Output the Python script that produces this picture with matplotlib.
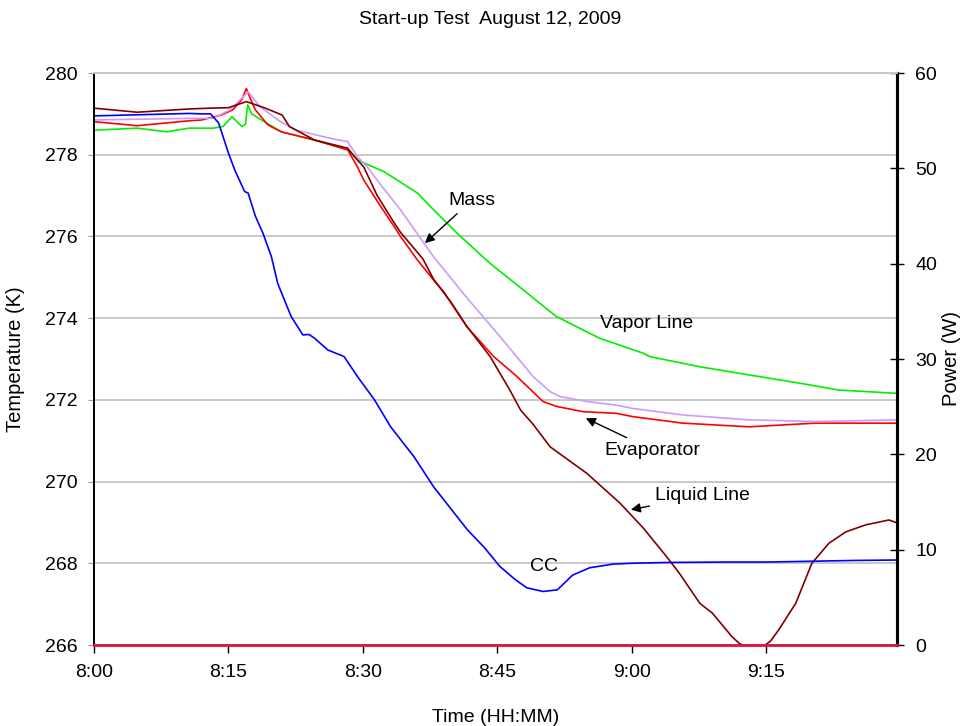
import matplotlib
matplotlib.use("Agg")
import matplotlib.pyplot as plt

plt.rcParams['font.family'] = ['Liberation Sans', 'DejaVu Sans']

# minutes after 8:00
xtick_pos = [0, 15, 30, 45, 60, 75]
xtick_labels = ['8:00', '8:15', '8:30', '8:45', '9:00', '9:15']

cc_t = [0, 10.6, 12.0, 13.0, 13.9, 15.0, 15.7, 16.8, 17.2, 18.0, 18.85, 19.8, 20.5,
        22.0, 23.3, 24.0, 24.6, 26.1, 27.9, 29.4, 31.3, 33.1, 35.7, 37.9, 41.7, 43.5,
        45.3, 47.0, 48.3, 50.1, 51.7, 53.4, 55.3, 57.9, 60.0, 63.9, 70, 75, 80, 85, 89.6]
cc_T = [278.95, 279.01, 279.0, 279.0, 278.78, 278.04, 277.63, 277.1, 277.06, 276.5,
        276.08, 275.5, 274.85, 274.04, 273.59, 273.6, 273.51, 273.22, 273.06, 272.57,
        272.0, 271.34, 270.61, 269.87, 268.81, 268.4, 267.92, 267.6, 267.4, 267.31,
        267.35, 267.71, 267.89, 267.98, 268.0, 268.02, 268.03, 268.03, 268.05, 268.07, 268.08]

evap_t = [0, 4.8, 10.6, 12, 14.2, 15.5, 16.5, 17.0, 17.4, 18.0, 19.4, 20.9, 24.6, 28.3,
          29.4, 30.1, 32.0, 33.5, 34.2, 36.1, 37.9, 39.0, 41.6, 44.6, 47.2, 50.1, 51.6,
          54.6, 58.3, 60.1, 65.7, 73.1, 80.5, 89.6]
evap_T = [278.81, 278.71, 278.83, 278.85, 278.97, 279.1, 279.35, 279.62, 279.4, 279.1,
          278.73, 278.56, 278.36, 278.12, 277.7, 277.38, 276.73, 276.24, 276.0, 275.42,
          274.93, 274.65, 273.79, 273.06, 272.57, 271.96, 271.84, 271.71, 271.67, 271.59,
          271.43, 271.34, 271.43, 271.43]

liq_t = [0, 4.8, 10.6, 13, 15, 17.0, 19, 21.0, 21.8, 24.6, 28.3, 29.4, 30.1, 31.6,
         33.5, 34.2, 36.7, 37.9, 39.8, 41.6, 44.2, 46.4, 47.6, 49.0, 50.9, 55.0, 58.7,
         61.3, 63.9, 65.3, 67.6, 69.0, 71.2, 72.0, 72.8, 74.6, 75.5, 76.4, 78.3, 80.1,
         82.0, 83.9, 86.1, 88.7, 89.6]
liq_T = [279.14, 279.04, 279.12, 279.14, 279.15, 279.3, 279.15, 278.97, 278.69, 278.36,
         278.16, 277.87, 277.7, 277.0, 276.33, 276.1, 275.45, 274.95, 274.4, 273.8,
         273.06, 272.24, 271.75, 271.4, 270.85, 270.2, 269.47, 268.86, 268.16, 267.76,
         267.02, 266.78, 266.2, 266.04, 265.95, 265.95, 266.1, 266.37, 267.02, 268.0,
         268.49, 268.77, 268.94, 269.06, 268.99]

mass_t = [0, 10.6, 13.3, 15.2, 17.2, 18.5, 20.8, 22.6, 26.4, 28.3, 29.4, 30.5, 32.0,
          34.2, 36.8, 37.9, 41.6, 45.3, 49.0, 50.9, 52.0, 55.0, 58.3, 60.1, 65.7, 73.1,
          80.5, 89.6]
mass_T = [278.85, 278.89, 278.89, 279.1, 279.54, 279.18, 278.81, 278.6, 278.4, 278.32,
          277.95, 277.7, 277.26, 276.65, 275.84, 275.5, 274.5, 273.55, 272.57, 272.2,
          272.08, 271.96, 271.87, 271.79, 271.63, 271.51, 271.47, 271.51]

vap_t = [0, 4.8, 8.1, 10.6, 13.3, 14.4, 15.4, 16.5, 16.9, 17.15, 17.6, 18.7, 20.9, 24.6,
         28.3, 29.4, 29.8, 32.4, 36.1, 37.9, 40.5, 44.2, 47.9, 50.9, 51.6, 55.3, 56.4,
         61.3, 62.0, 67.6, 73.1, 78.7, 83.1, 89.6]
vap_T = [278.6, 278.65, 278.56, 278.65, 278.65, 278.69, 278.93, 278.69, 278.75, 279.22,
         279.0, 278.85, 278.56, 278.36, 278.12, 277.87, 277.83, 277.58, 277.06, 276.65,
         276.08, 275.34, 274.69, 274.16, 274.04, 273.63, 273.51, 273.14, 273.06, 272.81,
         272.61, 272.41, 272.24, 272.16]

power_t = [0, 89.6]
power_W = [0, 0]

fig = plt.figure(figsize=(9.62, 7.26), dpi=100)
ax = fig.add_axes([94/962, 1-645/726, (897-94)/962, (645-73)/726])
ax2 = ax.twinx()

lw = 1.2
ax.plot(vap_t, vap_T, color='#00ee00', lw=lw)
ax.plot(evap_t, evap_T, color='#ff0000', lw=lw)
ax.plot(mass_t, mass_T, color='#cc99ff', lw=lw)
ax.plot(liq_t, liq_T, color='#800000', lw=lw)
ax.plot(cc_t, cc_T, color='#0000ff', lw=lw)

ax.set_xlim(0, 89.6)
ax.set_ylim(266, 280)
ax.set_yticks(range(266, 281, 2))
ax.set_xticks(xtick_pos)
ax.set_xticklabels(xtick_labels)
ax.yaxis.grid(True, color='#c8c8c8', lw=1.4)
ax.set_axisbelow(True)
ax.tick_params(axis='both', labelsize=14)
ax.tick_params(axis='x', direction='out', length=6, width=1, pad=8)
ax.tick_params(axis='y', direction='out', length=4, width=0.8, color='#999999', pad=8)

ax2.plot(power_t, power_W, color='#e0103c', lw=2, clip_on=False, zorder=5)
ax2.set_ylim(0, 60)
ax2.set_yticks(range(0, 61, 10))
ax2.tick_params(axis='y', direction='inout', length=10, width=1, labelsize=14, pad=8)

for a in (ax, ax2):
    a.spines['top'].set_color('#c8c8c8')
    a.spines['top'].set_linewidth(1.4)
    a.spines['left'].set_linewidth(1.3)
    a.spines['right'].set_linewidth(2.2)
    a.spines['bottom'].set_color('#888888')

ax.set_ylabel('Temperature (K)', fontsize=14.5)
ax.yaxis.set_label_coords(-0.086, 0.5)
ax2.set_ylabel('Power (W)', fontsize=14.5, rotation=90, va='center')
ax2.yaxis.set_label_coords(1.068, 0.5)
ax.set_xlabel('Time (HH:MM)', fontsize=14, labelpad=20)
fig.suptitle('Start-up Test  August 12, 2009', fontsize=14, x=0.51, y=0.985)

arrow = dict(arrowstyle='-|>', color='black', lw=1.0, mutation_scale=14)
ax.annotate('Mass', xy=(36.7, 275.79), xytext=(39.5, 276.67), fontsize=14,
            ha='left', va='bottom', arrowprops=arrow)
ax.text(56.5, 273.88, 'Vapor Line', fontsize=14, ha='left', va='center')
ax.annotate('Evaporator', xy=(54.6, 271.58), xytext=(57.0, 270.77), fontsize=14,
            ha='left', va='center', arrowprops=arrow)
ax.annotate('Liquid Line', xy=(59.6, 269.3), xytext=(62.6, 269.65), fontsize=14,
            ha='left', va='center', arrowprops=arrow)
ax.text(50.2, 267.91, 'CC', fontsize=14, ha='center', va='center')

fig.savefig('out.png', dpi=100)
